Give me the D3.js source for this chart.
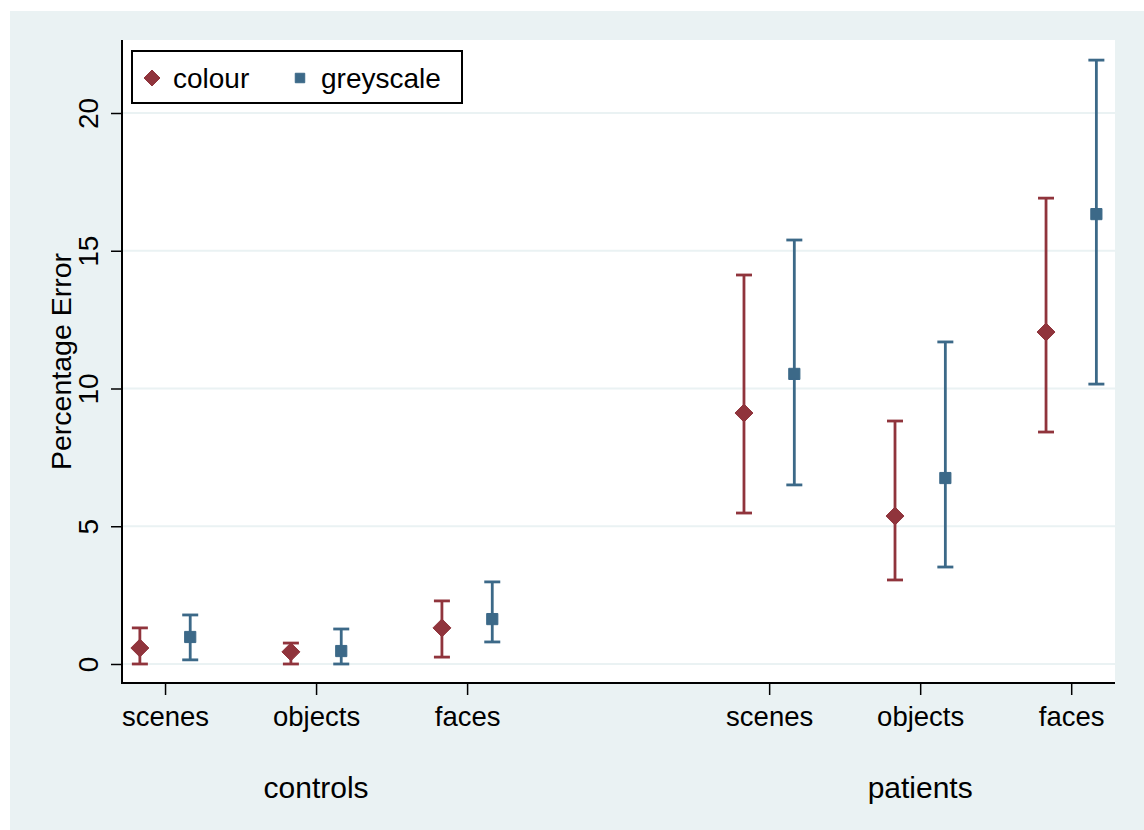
<!DOCTYPE html>
<html>
<head>
<meta charset="utf-8">
<script src="https://cdn.jsdelivr.net/npm/d3@7"></script>
<style>
  body { margin: 0; background: #fff; }
  svg text { font-family: "Liberation Sans", Arial, Helvetica, sans-serif; fill: #000; }
</style>
</head>
<body>
<div id="chart"></div>
<script>
// data
const groups = ['controls', 'patients'];
const categories = ['scenes', 'objects', 'faces'];
const seriesNames = ['colour', 'greyscale'];

const colourMean = [0.58, 0.44, 1.31, 9.11, 5.37, 12.05];
const colourLow = [0.0, 0.0, 0.25, 5.48, 3.05, 8.42];
const colourHigh = [1.31, 0.76, 2.29, 14.12, 8.82, 16.91];

const greyMean = [0.98, 0.47, 1.63, 10.53, 6.75, 16.33];
const greyLow = [0.15, 0.0, 0.8, 6.5, 3.52, 10.16];
const greyHigh = [1.78, 1.27, 2.98, 15.39, 11.69, 21.92];

const yTicks = [0, 5, 10, 15, 20];

const width = 1144;
const height = 830;
const plot = { left: 122, top: 40, right: 1115, bottom: 683 };
const colours = { colour: '#90343c', greyscale: '#3c6988' };
const bg = '#eaf2f3';

// slot positions: controls 1..3, patients 5..7
const slots = [];
groups.forEach((g, gi) => categories.forEach((c, ci) => {
  slots.push({ group: g, cat: c, pos: gi * 4 + ci + 1 });
}));

const x = d3.scaleLinear().domain([0.715, 7.29]).range([plot.left, plot.right]);
const y = d3.scaleLinear().domain([-0.69, 22.65]).range([plot.bottom, plot.top]);
const offset = 1 / 6;

const svg = d3.select('#chart').append('svg')
  .attr('width', width)
  .attr('height', height);

svg.append('rect')
  .attr('x', 10).attr('y', 11)
  .attr('width', width - 10).attr('height', height - 11)
  .attr('fill', bg);

svg.append('rect')
  .attr('x', plot.left).attr('y', plot.top)
  .attr('width', plot.right - plot.left).attr('height', plot.bottom - plot.top)
  .attr('fill', '#fff');

// grid
svg.append('g')
  .selectAll('line')
  .data(yTicks)
  .enter()
  .append('line')
  .attr('x1', plot.left)
  .attr('x2', plot.right)
  .attr('y1', d => y(d))
  .attr('y2', d => y(d))
  .attr('stroke', bg)
  .attr('stroke-width', 2);

// axes
const yAxis = d3.axisLeft(y).tickValues(yTicks).tickSize(11).tickSizeOuter(0);
const yAxisEl = svg.append('g')
  .attr('transform', `translate(${plot.left},0)`)
  .call(yAxis);
yAxisEl.select('.domain').attr('stroke-width', 2).attr('d', `M0,${plot.top}V${plot.bottom}`);
yAxisEl.selectAll('.tick line').attr('stroke-width', 1.5);
yAxisEl.selectAll('text')
  .attr('transform', 'rotate(-90)')
  .attr('x', 0)
  .attr('y', -24)
  .attr('dy', 0)
  .style('text-anchor', 'middle')
  .style('font-size', '28px')
  .style('font-family', '"Liberation Sans", Arial, sans-serif');

const xAxis = d3.axisBottom(x)
  .tickValues(slots.map(d => d.pos))
  .tickFormat((d, i) => slots[i].cat)
  .tickSize(12)
  .tickSizeOuter(0);
const xAxisEl = svg.append('g')
  .attr('transform', `translate(0,${plot.bottom})`)
  .call(xAxis);
xAxisEl.select('.domain').attr('stroke-width', 2).attr('d', `M${plot.left - 1},0H${plot.right}`);
xAxisEl.selectAll('.tick line').attr('stroke-width', 1.5);
xAxisEl.selectAll('text')
  .attr('y', 43)
  .attr('dy', 0)
  .style('font-size', '27.5px')
  .style('font-family', '"Liberation Sans", Arial, sans-serif');

// group titles
svg.append('g')
  .selectAll('text')
  .data(groups)
  .enter()
  .append('text')
  .attr('x', (d, i) => x(i * 4 + 2))
  .attr('y', 798)
  .attr('text-anchor', 'middle')
  .style('font-size', '30px')
  .text(d => d);

svg.append('text')
  .attr('transform', `translate(71,${(plot.top + plot.bottom) / 2}) rotate(-90)`)
  .attr('text-anchor', 'middle')
  .style('font-size', '28.5px')
  .text('Percentage Error');

// error bars and markers
const series = [
  { name: 'colour', mean: colourMean, lo: colourLow, hi: colourHigh, dx: -offset },
  { name: 'greyscale', mean: greyMean, lo: greyLow, hi: greyHigh, dx: offset }
];

series.forEach(s => {
  const g = svg.append('g').attr('class', 'series-' + s.name);
  const col = colours[s.name];
  const rows = slots.map((d, i) => ({ pos: d.pos + s.dx, mean: s.mean[i], lo: s.lo[i], hi: s.hi[i] }));

  g.selectAll('line.bar')
    .data(rows)
    .enter()
    .append('line')
    .attr('class', 'bar')
    .attr('x1', d => x(d.pos)).attr('x2', d => x(d.pos))
    .attr('y1', d => y(d.lo)).attr('y2', d => y(d.hi))
    .attr('stroke', col)
    .attr('stroke-width', 2.8);

  ['lo', 'hi'].forEach(k => {
    g.selectAll('line.cap-' + k)
      .data(rows)
      .enter()
      .append('line')
      .attr('class', 'cap-' + k)
      .attr('x1', d => x(d.pos) - 8).attr('x2', d => x(d.pos) + 8)
      .attr('y1', d => y(d[k])).attr('y2', d => y(d[k]))
      .attr('stroke', col)
      .attr('stroke-width', 2.8);
  });

  g.selectAll('path.mark')
    .data(rows)
    .enter()
    .append('path')
    .attr('class', 'mark')
    .attr('transform', d => `translate(${x(d.pos)},${y(d.mean)})`)
    .attr('d', s.name === 'colour'
      ? 'M0,-9L9,0L0,9L-9,0Z'
      : d3.symbol().type(d3.symbolSquare).size(125)())
    .attr('fill', col)
    .attr('stroke', col)
    .attr('stroke-width', 1)
    .attr('stroke-linejoin', 'round');
});

// legend
const legend = svg.append('g').attr('class', 'legend');
legend.append('rect')
  .attr('x', 132).attr('y', 51)
  .attr('width', 330).attr('height', 52)
  .attr('fill', '#fff')
  .attr('stroke', '#000')
  .attr('stroke-width', 2);

const legendX = [152, 300];
seriesNames.forEach((name, i) => {
  legend.append('path')
    .attr('transform', `translate(${legendX[i]},78)`)
    .attr('d', name === 'colour'
      ? 'M0,-8L8,0L0,8L-8,0Z'
      : d3.symbol().type(d3.symbolSquare).size(90)())
    .attr('fill', colours[name])
    .attr('stroke', colours[name])
    .attr('stroke-linejoin', 'round');
  legend.append('text')
    .attr('x', legendX[i] + 21)
    .attr('y', 88)
    .style('font-size', '28px')
    .text(name);
});
</script>
</body>
</html>
